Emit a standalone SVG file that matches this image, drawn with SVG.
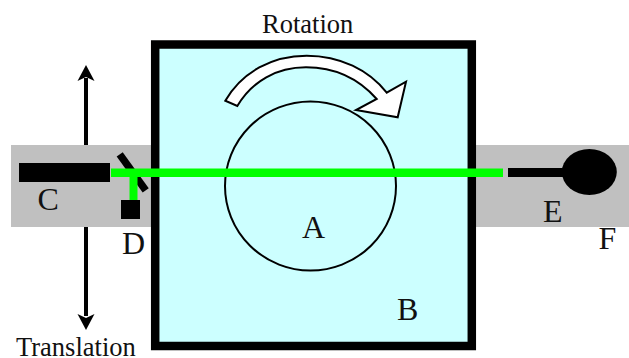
<svg xmlns="http://www.w3.org/2000/svg" width="629" height="358" viewBox="0 0 629 358">
<style>
text{font-family:"Liberation Serif","Times New Roman",serif;font-size:32px;fill:#111}
text.s{font-size:26.500px}
.g{fill:#c0c0c0}
.k{fill:#000}
.gr{fill:#00ff00}
</style>
<rect width="629" height="358" fill="#fff"/>
<g id="translation-arrow">
<rect x="84" y="78" width="4" height="238" class="k"/>
<path class="k" d="M86 65L94.500 81L86 77L77.500 81Z"/>
<path class="k" d="M86 330L94.500 314L86 318L77.500 314Z"/>
</g>
<g id="backgrounds">
<rect class="g" x="11" y="145" width="141" height="82"/>
<rect class="g" x="475" y="145" width="154" height="82"/>
</g>
<g id="B">
<rect x="155.200" y="44.500" width="316.600" height="301.500" fill="#ccffff" stroke="#000" stroke-width="8.500"/>
<text x="397" y="320">B</text>
</g>
<g id="A">
<ellipse cx="310.500" cy="186" rx="85.500" ry="84.500" fill="none" stroke="#000" stroke-width="2"/>
<text x="302" y="238">A</text>
</g>
<g id="rotation">
<path d="M225.300 100.700C242 72 272 55.700 306.700 55.700C340 55.700 369 70 386.700 92.700L406 81.700L397.700 117.300L356 110L376.700 99C358 78 334 67.300 306 67.300C277 67.300 252 81 237.300 106Z" fill="#fff" stroke="#000" stroke-width="2"/>
<text class="s" x="262" y="33">Rotation</text>
</g>
<g id="D">
<path d="M119.700 154.400L145.700 190.400" stroke="#000" stroke-width="7.500" fill="none"/>
<rect class="k" x="121" y="200" width="19" height="19"/>
<text x="122" y="253.500">D</text>
</g>
<g id="C">
<rect class="k" x="19" y="163" width="91" height="19"/>
<text x="37.500" y="209.500">C</text>
</g>
<g id="connectors">
<rect class="gr" x="111" y="168.500" width="392" height="8.500"/>
<rect class="gr" x="129.500" y="172" width="8" height="28"/>
</g>
<g id="E">
<rect class="k" x="508" y="168" width="60" height="9"/>
<text x="543" y="221.500">E</text>
</g>
<g id="F">
<ellipse class="k" cx="589.300" cy="172" rx="27.500" ry="23"/>
<text x="598.500" y="248.500">F</text>
</g>
<text class="s" x="16" y="355.500">Translation</text>
</svg>
